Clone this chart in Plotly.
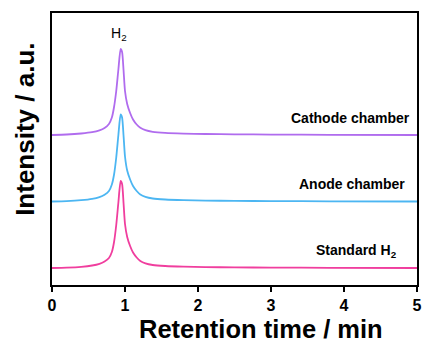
import plotly.graph_objects as go

# Retention time (min)
time_min = [0, 0.2, 0.4, 0.55, 0.65, 0.72, 0.78, 0.82, 0.85, 0.88, 0.91, 0.94, 0.96, 0.98,
            1.00, 1.03, 1.07, 1.11, 1.16, 1.21, 1.28, 1.38, 1.55, 1.8, 2.1, 2.5, 3.0, 3.8, 5.0]

# Intensities (a.u.)
standard_h2 = [0, 0.4, 1.2, 2.5, 4.2, 6.5, 10, 16, 26, 43, 66, 87, 84, 65,
               44, 31, 22, 15.5, 10.5, 7, 4.6, 3.0, 2.0, 1.3, 0.9, 0.6, 0.4, 0.2, 0]
anode = [0, 0.4, 1.3, 2.6, 4.4, 6.8, 10.5, 17, 27, 44, 67, 87, 84, 66,
         45, 31, 22, 15.5, 10.5, 7, 4.6, 3.0, 2.0, 1.3, 0.9, 0.6, 0.4, 0.2, 0]
cathode = [0, 0.5, 1.5, 2.8, 4.6, 7.0, 11, 17.5, 28, 44, 66, 86, 83, 65,
           44, 31, 22, 15.5, 10.5, 7.2, 4.8, 3.2, 2.1, 1.4, 1.0, 0.7, 0.4, 0.2, 0]

series_names = ["Standard H<sub>2</sub>", "Anode chamber", "Cathode chamber"]
series_values = [standard_h2, anode, cathode]
offsets = [17, 83.5, 150]
colors = ["#F03E9E", "#4CB6F2", "#B06CEE"]

x_ticks = [0, 1, 2, 3, 4, 5]
x_title = "Retention time / min"
y_title = "Intensity / a.u."

fig = go.Figure()
for vals, off, col in zip(series_values, offsets, colors):
    fig.add_trace(go.Scatter(
        x=time_min, y=[v + off for v in vals], mode="lines",
        line=dict(color=col, width=1.8, shape="spline", smoothing=0.6),
        hoverinfo="skip", showlegend=False))

font_family = "Liberation Sans, Arial, sans-serif"

# series labels
label_pos = [(4.75, 34), (4.86, 101), (4.93, 167)]
for name, (lx, ly) in zip(series_names, label_pos):
    fig.add_annotation(x=lx, y=ly, xref="x", yref="y", text="<b>" + name + "</b>",
                       showarrow=False, xanchor="right", yanchor="middle",
                       font=dict(family=font_family, size=14, color="black"))

fig.add_annotation(x=0.92, y=251, xref="x", yref="y", text="H<sub>2</sub>",
                   showarrow=False, xanchor="center", yanchor="middle",
                   font=dict(family=font_family, size=14, color="black"))

# axis titles
fig.add_annotation(x=0.5726, y=-0.16, xref="paper", yref="paper", text="<b>" + x_title + "</b>",
                   showarrow=False, xanchor="center", yanchor="middle",
                   font=dict(family=font_family, size=25.5, color="black"))
fig.add_annotation(x=-0.074, y=0.574, xref="paper", yref="paper", text="<b>" + y_title + "</b>",
                   showarrow=False, xanchor="center", yanchor="middle", textangle=-90,
                   font=dict(family=font_family, size=26, color="black"))

fig.update_layout(
    width=424, height=342,
    margin=dict(l=52, r=7, t=13, b=57),
    paper_bgcolor="white", plot_bgcolor="white",
    font=dict(family=font_family, color="black"),
)
fig.update_xaxes(
    range=[0, 5], tickvals=x_ticks, ticktext=["<b>%d</b>" % t for t in x_ticks],
    ticks="outside", ticklen=5, tickwidth=1.5, tickcolor="black",
    showline=True, linewidth=1.5, linecolor="black", mirror=True,
    showgrid=False, zeroline=False, automargin=False,
    tickfont=dict(size=16, family=font_family),
)
fig.update_yaxes(
    range=[0, 272], showticklabels=False, ticks="",
    showline=True, linewidth=1.5, linecolor="black", mirror=True,
    showgrid=False, zeroline=False, automargin=False,
)

fig.write_html("out.html")
